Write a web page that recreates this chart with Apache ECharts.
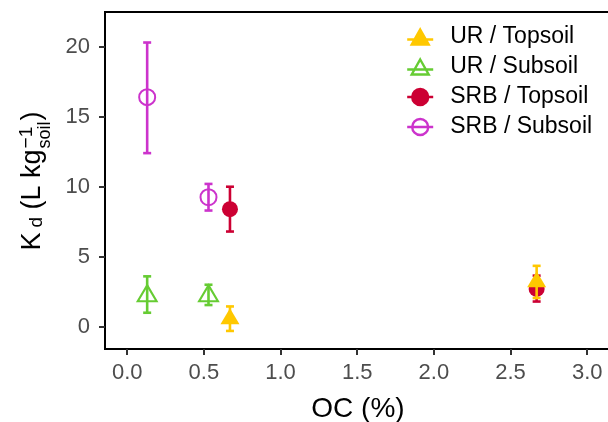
<!DOCTYPE html>
<html>
<head>
<meta charset="utf-8">
<script src="https://cdn.jsdelivr.net/npm/echarts@6/dist/echarts.min.js"></script>
<style>
  html, body { margin: 0; padding: 0; background: #fff; }
  #chart { width: 608px; height: 422px; }
</style>
</head>
<body>
<div id="chart"></div>
<script>
// groups, in legend order
const groupNames = ['UR / Topsoil', 'UR / Subsoil', 'SRB / Topsoil', 'SRB / Subsoil']
// organic carbon (%) of each point, per group
const ocValues = [[0.67, 2.67], [0.13, 0.53], [0.67, 2.67], [0.13, 0.53]]
// Kd mean and error bar ends, per group
const kdMean = [[0.55, 3.2], [2.2, 2.2], [8.4, 2.7], [16.4, 9.25]]
const kdLow = [[-0.3, 2.05], [1.0, 1.55], [6.8, 1.8], [12.4, 8.3]]
const kdHigh = [[1.45, 4.35], [3.6, 3.0], [10.0, 3.65], [20.3, 10.2]]
// axis ticks
const xTicks = [0, 0.5, 1, 1.5, 2, 2.5, 3]
const yTicks = [0, 5, 10, 15, 20]

const colors = ['#FFC800', '#66CC33', '#CC0033', '#CC33CC']
const filled = [true, false, true, false]
const isTriangle = [true, true, false, false]
const triIcon = 'path://M13,0 L21.5,15 L4.5,15 Z M0,10 L26,10'
const circIcon = 'path://M5,8 A8,8 0 1,1 21,8 A8,8 0 1,1 5,8 Z M0,8 L26,8'
const FONT = 'Liberation Sans'

const chart = echarts.init(document.getElementById('chart'))

function renderErr (params, api) {
  const x = api.value(0)
  const lo = api.coord([x, api.value(1)])
  const hi = api.coord([x, api.value(2)])
  const cap = 4
  const style = { stroke: api.visual('color'), lineWidth: 2.6 }
  return {
    type: 'group',
    children: [
      { type: 'line', shape: { x1: lo[0], y1: lo[1], x2: hi[0], y2: hi[1] }, style: style },
      { type: 'line', shape: { x1: hi[0] - cap, y1: hi[1], x2: hi[0] + cap, y2: hi[1] }, style: style },
      { type: 'line', shape: { x1: lo[0] - cap, y1: lo[1], x2: lo[0] + cap, y2: lo[1] }, style: style }
    ]
  }
}

// draw order: SRB first, UR on top
const drawOrder = [3, 2, 1, 0]
const series = []
drawOrder.forEach((g, k) => {
  const errData = ocValues[g].map((x, i) => [x, kdLow[g][i], kdHigh[g][i]])
  const ptData = ocValues[g].map((x, i) => [x, kdMean[g][i]])
  series.push({
    name: groupNames[g] + ' err',
    type: 'custom',
    renderItem: renderErr,
    itemStyle: { color: colors[g] },
    encode: { x: 0, y: [1, 2] },
    data: errData,
    z: 2 + k * 2,
    silent: true
  })
  series.push({
    name: groupNames[g],
    type: 'scatter',
    symbol: isTriangle[g] ? 'triangle' : 'circle',
    symbolSize: isTriangle[g] ? [19, 16] : 16,
    symbolOffset: isTriangle[g] ? [0, -2.7] : [0, 0],
    itemStyle: {
      color: filled[g] ? colors[g] : 'rgba(0,0,0,0)',
      borderColor: colors[g],
      borderWidth: filled[g] ? 0 : 2,
      opacity: 1
    },
    data: ptData,
    z: 3 + k * 2
  })
})

const legendData = groupNames.map((n, g) => ({
  name: n,
  icon: isTriangle[g] ? triIcon : circIcon,
  itemStyle: {
    color: filled[g] ? colors[g] : 'rgba(0,0,0,0)',
    borderColor: colors[g],
    borderWidth: 2.4
  }
}))

// y axis title: K_d (L kg_soil^-1), laid out piece by piece
const ctx = document.createElement('canvas').getContext('2d')
function textW (t, size) {
  ctx.font = size + 'px "' + FONT + '"'
  return ctx.measureText(t).width
}
const big = 27
const small = 19
const pieces = []
let cx = 0
pieces.push({ t: 'K', s: big, x: cx, y: 0 })
cx += textW('K', big) + 5
pieces.push({ t: 'd', s: small, x: cx, y: 4.6 })
cx += textW('d', small)
pieces.push({ t: ' (L kg', s: big, x: cx, y: 0 })
cx += textW(' (L kg', big) + 1
pieces.push({ t: '\u22121', s: small, x: cx, y: -5.5 })
pieces.push({ t: 'soil', s: 18, x: cx, y: 13 })
cx += Math.max(textW('\u22121', small), textW('soil', 18)) + 1
pieces.push({ t: ')', s: big, x: cx, y: 0 })
cx += textW(')', big)
const yTitle = {
  type: 'group',
  x: 32.5,
  y: 181,
  rotation: Math.PI / 2,
  children: pieces.map(p => ({
    type: 'text',
    x: p.x - cx / 2,
    y: p.y,
    style: {
      text: p.t,
      fontFamily: FONT,
      fontSize: p.s,
      fill: '#000',
      align: 'left',
      verticalAlign: 'middle'
    }
  }))
}

const option = {
  animation: false,
  backgroundColor: '#fff',
  grid: {
    left: 105,
    top: 12,
    right: -3,
    bottom: 73,
    outerBoundsMode: 'none',
    show: true,
    borderColor: '#000',
    borderWidth: 2
  },
  legend: {
    orient: 'vertical',
    left: 406,
    top: 25,
    padding: 0,
    itemWidth: 26,
    itemHeight: 16,
    itemGap: 6,
    data: legendData,
    selectedMode: false,
    textStyle: {
      fontFamily: FONT,
      fontSize: 23,
      lineHeight: 24,
      color: '#000',
      padding: [0, 0, 0, 12]
    }
  },
  xAxis: {
    type: 'value',
    min: -0.145,
    max: 3.155,
    splitLine: { show: false },
    axisLine: { show: false, onZero: false },
    axisTick: { show: true, customValues: xTicks, length: 6, lineStyle: { color: '#333', width: 2 } },
    axisLabel: {
      customValues: xTicks,
      formatter: v => v.toFixed(1),
      margin: 13,
      fontFamily: FONT,
      fontSize: 22,
      color: '#4D4D4D'
    },
    name: 'OC (%)',
    nameLocation: 'middle',
    nameGap: 46,
    nameTextStyle: { fontFamily: FONT, fontSize: 28, color: '#000' }
  },
  yAxis: {
    type: 'value',
    min: -1.59,
    max: 22.48,
    splitLine: { show: false },
    axisLine: { show: false, onZero: false },
    axisTick: { show: true, customValues: yTicks, length: 6, lineStyle: { color: '#333', width: 2 } },
    axisLabel: {
      customValues: yTicks,
      margin: 15,
      fontFamily: FONT,
      fontSize: 22,
      color: '#4D4D4D'
    }
  },
  graphic: [yTitle],
  series: series
}

chart.setOption(option)
</script>
</body>
</html>
